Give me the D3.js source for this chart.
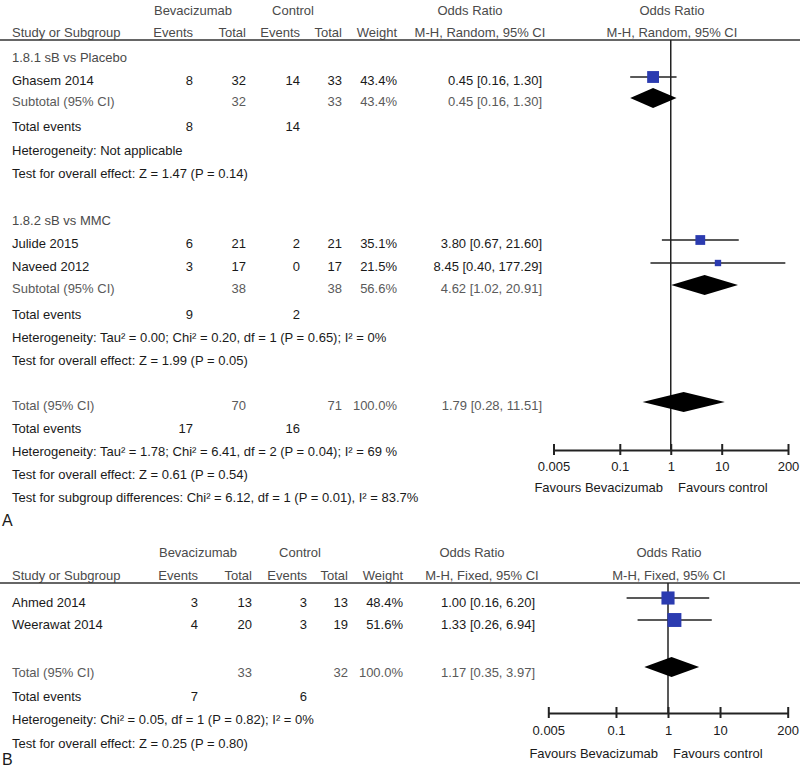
<!DOCTYPE html>
<html><head><meta charset="utf-8">
<script src="https://cdn.jsdelivr.net/npm/d3@7"></script>
<style>
body{margin:0;background:#fff;}
svg text{font-family:"Liberation Sans Narrow","Arial Narrow","Liberation Sans",Arial,sans-serif;font-size:13px;}
</style></head><body>
<script>
// ---------- DATA: panel A ----------
const subgroupsA = ["1.8.1 sB vs Placebo", "1.8.2 sB vs MMC"];
const studyA = ["Ghasem 2014", "Julide 2015", "Naveed 2012"];
const bevEventsA = [8, 6, 3];
const bevTotalA = [32, 21, 17];
const ctrlEventsA = [14, 2, 0];
const ctrlTotalA = [33, 21, 17];
const weightA = ["43.4%", "35.1%", "21.5%"];
const orA = [0.45, 3.80, 8.45];
const loA = [0.16, 0.67, 0.40];
const hiA = [1.30, 21.60, 177.29];
const orLabelA = ["0.45 [0.16, 1.30]", "3.80 [0.67, 21.60]", "8.45 [0.40, 177.29]"];
// subtotals (subgroup 1, subgroup 2, overall)
const sumLabelA = ["Subtotal (95% CI)", "Subtotal (95% CI)", "Total (95% CI)"];
const sumBevTotalA = [32, 38, 70];
const sumCtrlTotalA = [33, 38, 71];
const sumWeightA = ["43.4%", "56.6%", "100.0%"];
const sumOrA = [0.45, 4.62, 1.79];
const sumLoA = [0.16, 1.02, 0.28];
const sumHiA = [1.30, 20.91, 11.51];
const sumOrLabelA = ["0.45 [0.16, 1.30]", "4.62 [1.02, 20.91]", "1.79 [0.28, 11.51]"];
const totEventsBevA = [8, 9, 17];
const totEventsCtrlA = [14, 2, 16];
const heteroA = ["Heterogeneity: Not applicable",
  "Heterogeneity: Tau² = 0.00; Chi² = 0.20, df = 1 (P = 0.65); I² = 0%",
  "Heterogeneity: Tau² = 1.78; Chi² = 6.41, df = 2 (P = 0.04); I² = 69 %"];
const effectA = ["Test for overall effect: Z = 1.47 (P = 0.14)",
  "Test for overall effect: Z = 1.99 (P = 0.05)",
  "Test for overall effect: Z = 0.61 (P = 0.54)"];
const subgroupDiffA = "Test for subgroup differences: Chi² = 6.12, df = 1 (P = 0.01), I² = 83.7%";

// ---------- DATA: panel B ----------
const studyB = ["Ahmed 2014", "Weerawat 2014"];
const bevEventsB = [3, 4];
const bevTotalB = [13, 20];
const ctrlEventsB = [3, 3];
const ctrlTotalB = [13, 19];
const weightB = ["48.4%", "51.6%"];
const orB = [1.00, 1.33];
const loB = [0.16, 0.26];
const hiB = [6.20, 6.94];
const orLabelB = ["1.00 [0.16, 6.20]", "1.33 [0.26, 6.94]"];
const totalLabelB = "Total (95% CI)";
const totalNB = [33, 32];
const totalWeightB = "100.0%";
const totalOrB = [1.17, 0.35, 3.97];
const totalOrLabelB = "1.17 [0.35, 3.97]";
const totEventsB = [7, 6];
const heteroB = "Heterogeneity: Chi² = 0.05, df = 1 (P = 0.82); I² = 0%";
const effectB = "Test for overall effect: Z = 0.25 (P = 0.80)";

const tickValues = [0.005, 0.1, 1, 10, 200];
const tickLabels = ["0.005", "0.1", "1", "10", "200"];

// ---------- DRAW ----------
const W = 800, H = 769;
const svg = d3.select("body").append("svg").attr("width", W).attr("height", H);

const DARK = "#1a1a1a", GRAY = "#5a5a5a", HEAD = "#4a4a4a", BLUE = "#2b3bb0";

function txt(g, x, y, s, anchor, color) {
  return g.append("text").attr("x", x).attr("y", y).attr("dy", "0.35em")
    .attr("text-anchor", anchor || "start").attr("fill", color || DARK).text(s);
}

function header(g, cols, y1, y2, yLine, methodLbl, orTxtCx, plotCx) {
  txt(g, cols.bevHead, y1, "Bevacizumab", "middle", HEAD);
  txt(g, cols.ctrlHead, y1, "Control", "middle", HEAD);
  txt(g, orTxtCx, y1, "Odds Ratio", "middle", HEAD);
  txt(g, plotCx, y1, "Odds Ratio", "middle", HEAD);
  txt(g, cols.name, y2, "Study or Subgroup", "start", HEAD);
  txt(g, cols.bevE, y2, "Events", "end", HEAD);
  txt(g, cols.bevN, y2, "Total", "end", HEAD);
  txt(g, cols.ctrlE, y2, "Events", "end", HEAD);
  txt(g, cols.ctrlN, y2, "Total", "end", HEAD);
  txt(g, cols.w, y2, "Weight", "end", HEAD);
  txt(g, orTxtCx + 10, y2, methodLbl, "middle", HEAD);
  txt(g, plotCx, y2, methodLbl, "middle", HEAD);
  g.append("line").attr("x1", 0).attr("x2", W).attr("y1", yLine).attr("y2", yLine)
    .attr("stroke", "#333").attr("stroke-width", 1.5);
}

function square(g, x, y, or, lo, hi, size) {
  g.append("line").attr("x1", x(lo)).attr("x2", x(hi)).attr("y1", y).attr("y2", y)
    .attr("stroke", "#222").attr("stroke-width", 1.3);
  g.append("rect").attr("x", x(or) - size / 2).attr("y", y - size / 2)
    .attr("width", size).attr("height", size).attr("fill", BLUE);
}
function diamond(g, x, y, or, lo, hi, hh) {
  g.append("path").attr("d", `M${x(lo)},${y}L${x(or)},${y - hh}L${x(hi)},${y}L${x(or)},${y + hh}Z`)
    .attr("fill", "#000");
}
function axis(g, x, y, yTop, pad, favY, leftFavEnd, rightFavStart) {
  g.append("line").attr("x1", x(1)).attr("x2", x(1)).attr("y1", yTop).attr("y2", y)
    .attr("stroke", "#222").attr("stroke-width", 1.5);
  const ax = g.append("g").attr("transform", `translate(0,${y})`)
    .call(d3.axisBottom(x).tickValues(tickValues).tickFormat((d, i) => tickLabels[i])
      .tickSizeInner(5).tickSizeOuter(0).tickPadding(pad));
  ax.attr("font-size", null).attr("font-family", null);
  ax.select(".domain").attr("stroke", "#222").attr("stroke-width", 2);
  ax.selectAll(".tick line").attr("y1", -6).attr("y2", 5).attr("stroke", "#222").attr("stroke-width", 2);
  ax.selectAll(".tick text").attr("fill", DARK);
  txt(g, leftFavEnd, favY, "Favours Bevacizumab", "end", DARK);
  txt(g, rightFavStart, favY, "Favours control", "start", DARK);
}

// ===== Panel A =====
const gA = svg.append("g");
const colsA = {name: 12, bevHead: 193, ctrlHead: 293, bevE: 193, bevN: 246, ctrlE: 300, ctrlN: 342, w: 397, or: 542};
const xA = d3.scaleLog().domain([0.005, 200]).range([553.5, 788]);
header(gA, colsA, 10, 32, 40, "M-H, Random, 95% CI", 470, 672);
axis(gA, xA, 450, 40, 7, 487, 663, 678);

const sizeScale = d3.scaleLinear().domain([0, 52]).range([0, 13]);

// layout rows for panel A (y positions)
const headY = [57, 220];
const studyY = [80, 243, 266];
const sumY = [101, 288, 405];
const totY = [126, 314, 428];
const hetY = [150, 337, 451];
const effY = [173, 360, 474];

subgroupsA.forEach((s, i) => txt(gA, colsA.name, headY[i], s, "start", HEAD));
studyA.forEach((s, i) => {
  const y = studyY[i];
  txt(gA, colsA.name, y, s, "start");
  txt(gA, colsA.bevE, y, bevEventsA[i], "end");
  txt(gA, colsA.bevN, y, bevTotalA[i], "end");
  txt(gA, colsA.ctrlE, y, ctrlEventsA[i], "end");
  txt(gA, colsA.ctrlN, y, ctrlTotalA[i], "end");
  txt(gA, colsA.w, y, weightA[i], "end");
  txt(gA, colsA.or, y, orLabelA[i], "end");
  square(gA, xA, y - 3, orA[i], loA[i], hiA[i], sizeScale(parseFloat(weightA[i])) + 1);
});
sumLabelA.forEach((s, i) => {
  const y = sumY[i];
  txt(gA, colsA.name, y, s, "start", GRAY);
  txt(gA, colsA.bevN, y, sumBevTotalA[i], "end", GRAY);
  txt(gA, colsA.ctrlN, y, sumCtrlTotalA[i], "end", GRAY);
  txt(gA, colsA.w, y, sumWeightA[i], "end", GRAY);
  txt(gA, colsA.or, y, sumOrLabelA[i], "end", GRAY);
  diamond(gA, xA, y - 3, sumOrA[i], sumLoA[i], sumHiA[i], 10);
  txt(gA, colsA.name, totY[i], "Total events", "start");
  txt(gA, colsA.bevE, totY[i], totEventsBevA[i], "end");
  txt(gA, colsA.ctrlE, totY[i], totEventsCtrlA[i], "end");
  txt(gA, colsA.name, hetY[i], heteroA[i], "start");
  txt(gA, colsA.name, effY[i], effectA[i], "start");
});
txt(gA, colsA.name, 497, subgroupDiffA, "start");
gA.append("text").attr("x", 2).attr("y", 520).attr("dy", "0.35em").attr("fill", DARK)
  .style("font-family", "'Liberation Sans',Arial,sans-serif").style("font-size", "16px").text("A");

// ===== Panel B =====
const gB = svg.append("g");
const colsB = {name: 12, bevHead: 198, ctrlHead: 300, bevE: 198, bevN: 252, ctrlE: 307, ctrlN: 348, w: 403, or: 535};
const xB = d3.scaleLog().domain([0.005, 200]).range([548.3, 787.7]);
header(gB, colsB, 552, 575, 583, "M-H, Fixed, 95% CI", 472, 669);
axis(gB, xB, 713, 583, 8, 753, 658, 673);

const studyYB = [602, 624];
studyB.forEach((s, i) => {
  const y = studyYB[i];
  txt(gB, colsB.name, y, s, "start");
  txt(gB, colsB.bevE, y, bevEventsB[i], "end");
  txt(gB, colsB.bevN, y, bevTotalB[i], "end");
  txt(gB, colsB.ctrlE, y, ctrlEventsB[i], "end");
  txt(gB, colsB.ctrlN, y, ctrlTotalB[i], "end");
  txt(gB, colsB.w, y, weightB[i], "end");
  txt(gB, colsB.or, y, orLabelB[i], "end");
  square(gB, xB, y - 4, orB[i], loB[i], hiB[i], sizeScale(parseFloat(weightB[i])) + 1);
});
txt(gB, colsB.name, 672, totalLabelB, "start", GRAY);
txt(gB, colsB.bevN, 672, totalNB[0], "end", GRAY);
txt(gB, colsB.ctrlN, 672, totalNB[1], "end", GRAY);
txt(gB, colsB.w, 672, totalWeightB, "end", GRAY);
txt(gB, colsB.or, 672, totalOrLabelB, "end", GRAY);
diamond(gB, xB, 667, totalOrB[0], totalOrB[1], totalOrB[2], 10);
txt(gB, colsB.name, 696, "Total events", "start");
txt(gB, colsB.bevE, 696, totEventsB[0], "end");
txt(gB, colsB.ctrlE, 696, totEventsB[1], "end");
txt(gB, colsB.name, 719, heteroB, "start");
txt(gB, colsB.name, 743, effectB, "start");
gB.append("text").attr("x", 2).attr("y", 759).attr("dy", "0.35em").attr("fill", DARK)
  .style("font-family", "'Liberation Sans',Arial,sans-serif").style("font-size", "16px").text("B");
</script>
</body></html>
